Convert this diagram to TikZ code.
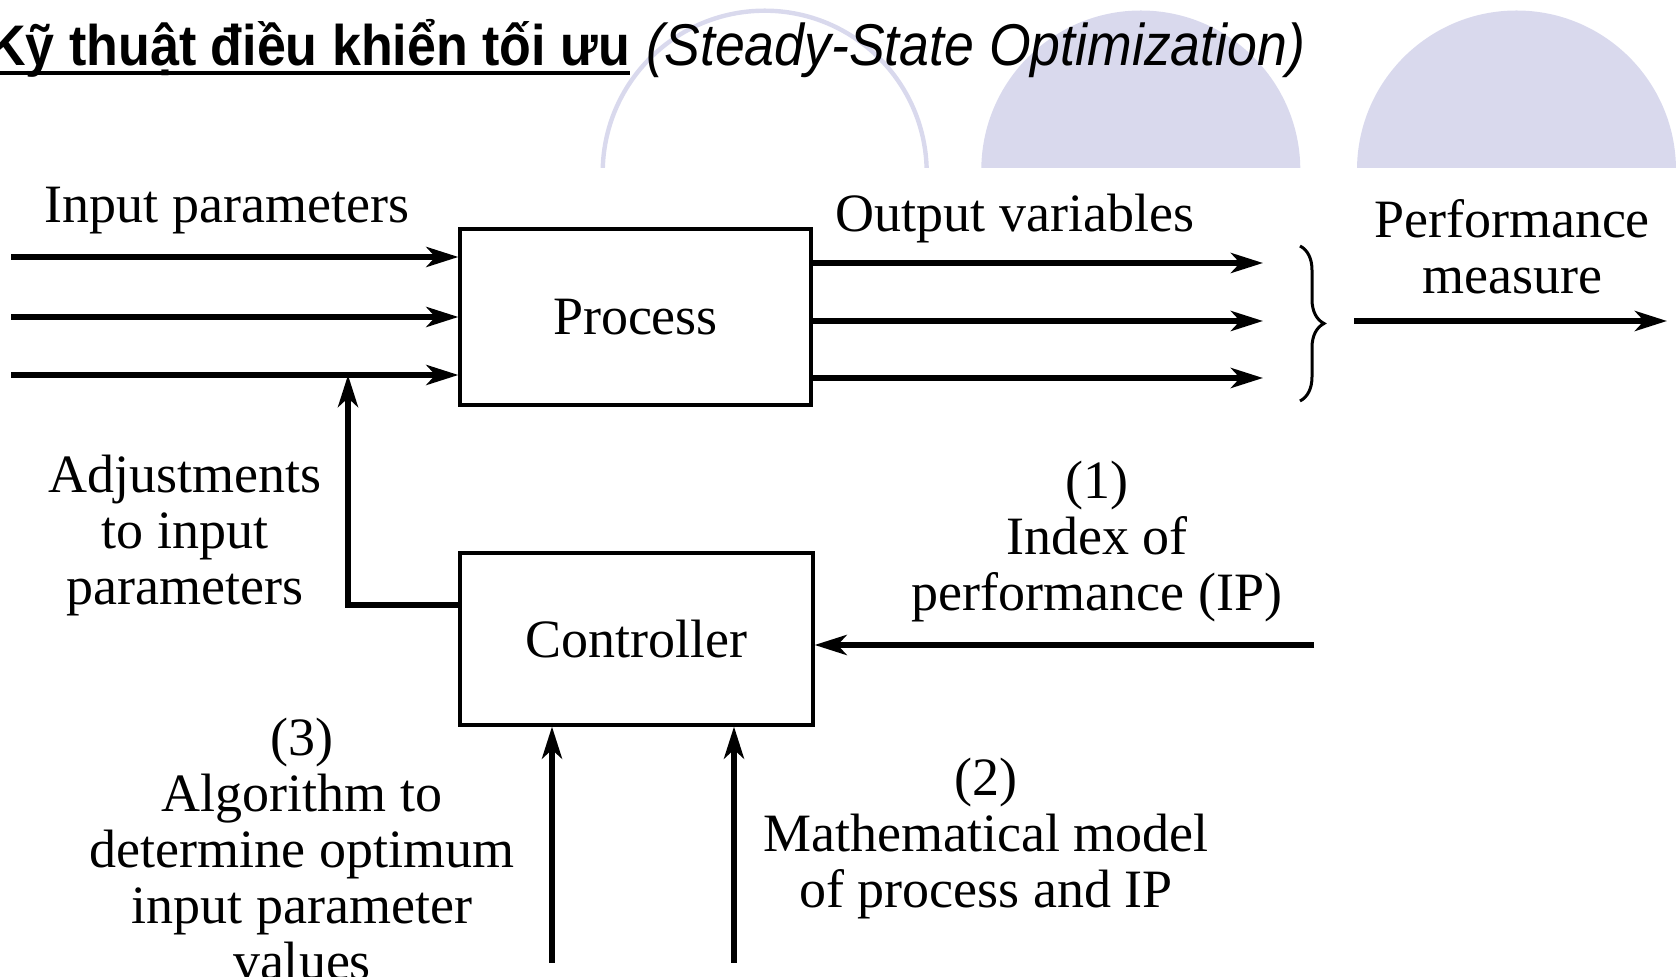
\documentclass[tikz,border=0pt]{standalone}
\usepackage{fontspec}
\setmainfont{Liberation Serif}
\newfontfamily\titlefont{Liberation Sans}
\usetikzlibrary{arrows.meta,decorations.pathreplacing}
\definecolor{lav}{RGB}{217,217,237}
\begin{document}
\begin{tikzpicture}[x=0.5pt,y=-0.5pt,
  blockbox/.style={draw,line width=1.6pt,inner sep=0pt,font=\fontsize{27}{28}\selectfont},
  lbl/.style={inner sep=0pt,align=center,font=\fontsize{27}{28}\selectfont},
  arr/.style={line width=2.8pt,-{Stealth[length=16pt,width=10pt,inset=4.5pt]}},
  ttl/.style={inner sep=0pt,anchor=base west,font=\titlefont\fontsize{26}{30}\selectfont}]
\useasboundingbox (0,0) rectangle (1678,977);
% decorative half discs
\begin{scope}
  \clip (0,0) rectangle (1678,168);
  \draw[lav,line width=2.2pt] (764.7,172.7) circle[radius=162];
  \fill[lav] (1140.8,170) circle[radius=159.5];
  \fill[lav] (1516.5,170) circle[radius=159.5];
\end{scope}
% title
\node[ttl] (t1) at (-12,66) {\scalebox{1}[1.1]{\bfseries Kỹ thuật điều khiển tối ưu}};
\node[ttl,anchor=base west,font=\titlefont\fontsize{26.8}{30}\selectfont] (t2) at ([xshift=8pt]t1.base east) {\scalebox{1}[1.1]{\itshape(Steady-State Optimization)}};
\draw[line width=2pt] ([yshift=-3.5pt]t1.base west) -- ([yshift=-3.5pt]t1.base east);
% blocks
\node[blockbox,minimum width=175.5pt,minimum height=88pt] (proc) at (635.5,317) {Process};
\node[blockbox,minimum width=176.5pt,minimum height=86pt] (ctrl) at (636.5,639) {Controller};
% inputs
\coordinate (in1) at (11,257);
\coordinate (in2) at (11,317);
\coordinate (in3) at (11,375);
\draw[arr] (in1) -- (in1 -| proc.west);
\draw[arr] (in2) -- (in2 -| proc.west);
\draw[arr] (in3) -- (in3 -| proc.west);
\node[lbl] (inlbl) at (227,211) {Input parameters};
% outputs
\coordinate (out1) at (1263,263);
\coordinate (out2) at (1263,321);
\coordinate (out3) at (1263,378);
\draw[arr] (out1 -| proc.east) -- (out1);
\draw[arr] (out2 -| proc.east) -- (out2);
\draw[arr] (out3 -| proc.east) -- (out3);
\node[lbl] (outlbl) at (1015,219) {Output variables};
% brace and performance measure
\draw[line width=1.5pt,decorate,decoration={brace,amplitude=12pt}] (1300,246) -- (1300,401);
\coordinate (pm0) at (1354,321);
\coordinate (pm1) at (1667,321);
\draw[arr] (pm0) -- (pm1);
\node[lbl] (pmlbl) at (1512,247) {Performance\\measure};
% adjustments
\coordinate (adj) at (348,605);
\draw[arr] (ctrl.west |- adj) -- (adj) -- (adj |- in3);
\node[lbl] (adjlbl) at (185,536) {Adjustments\\to input\\parameters};
% index of performance
\coordinate (ip) at (1314,645);
\draw[arr] (ip) -- (ip -| ctrl.east);
\node[lbl] (iplbl) at (1097,542) {(1)\\Index of\\performance (IP)};
% bottom inputs
\coordinate (alg) at (552,963);
\coordinate (mod) at (734,963);
\draw[arr] (alg) -- (alg |- ctrl.south);
\draw[arr] (mod) -- (mod |- ctrl.south);
\node[lbl] (alglbl) at (302,849) {(3)\\Algorithm to\\determine optimum\\input parameter\\values};
\node[lbl] (modlbl) at (986,839) {(2)\\Mathematical model\\of process and IP};
\end{tikzpicture}
\end{document}
